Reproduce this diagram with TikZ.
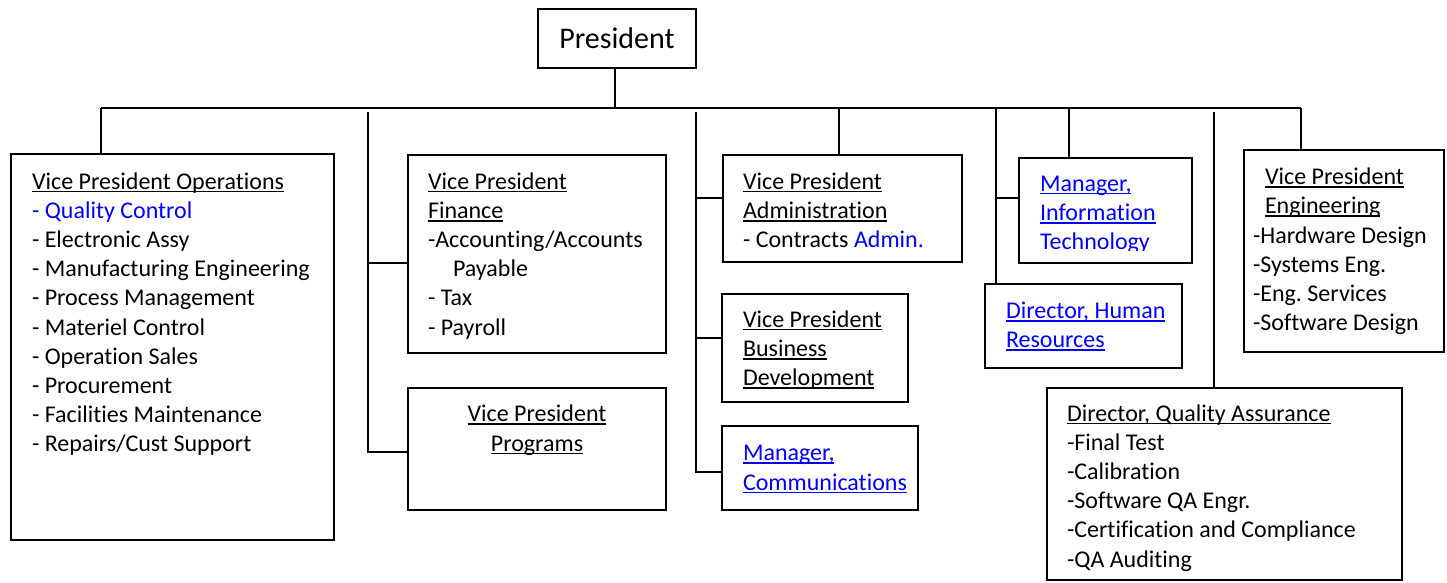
\documentclass[tikz,border=0pt]{standalone}
\usepackage{fontspec}
\setmainfont{Carlito}[Ligatures=NoCommon]
\definecolor{linkblue}{RGB}{0,0,255}
\newcommand\myul[1]{\setbox0\hbox{#1}\rlap{\rule[-3.4pt]{\wd0}{1.8pt}}\box0}
\newcommand\mylink[1]{\textcolor{linkblue}{\myul{#1}}}
\frenchspacing
\begin{document}
\begin{tikzpicture}[
  x=1pt, y=-1pt,
  box/.style={draw, line width=1.8pt, inner sep=0pt, outer sep=0pt, anchor=north west},
  conn/.style={line width=1.8pt},
  txt/.style={inner sep=0pt, outer sep=0pt, anchor=base west, align=left,
              font=\fontsize{24}{29.2}\selectfont},
]
\useasboundingbox (0,0) rectangle (1447,582);

% boxes
\node[box, minimum width=158, minimum height=59, font=\fontsize{30}{36}\selectfont] (pres) at (538,9) {President};
\node[box, minimum width=323, minimum height=386] (ops)   at (11,154) {};
\node[box, minimum width=258, minimum height=198] (fin)   at (408,155) {};
\node[box, minimum width=258, minimum height=122] (prog)  at (408,388) {};
\node[box, minimum width=239, minimum height=107] (adm)   at (723,155) {};
\node[box, minimum width=186, minimum height=108] (biz)   at (722,294) {};
\node[box, minimum width=196, minimum height=84]  (com)   at (722,426) {};
\node[box, minimum width=173, minimum height=105] (it)    at (1019,158) {};
\node[box, minimum width=197, minimum height=84]  (hr)    at (985,284) {};
\node[box, minimum width=200, minimum height=202] (eng)   at (1244,150) {};
\node[box, minimum width=355, minimum height=192] (qa)    at (1047,388) {};

% texts (anchor = baseline of the last line)
\node[txt] (opsT) at (32,451.8) {\myul{Vice President Operations}\\
  \textcolor{linkblue}{- Quality Control}\\
  - Electronic Assy\\
  - Manufacturing Engineering\\
  - Process Management\\
  - Materiel Control\\
  - Operation Sales\\
  - Procurement\\
  - Facilities Maintenance\\
  - Repairs/Cust Support};
\node[txt] (finT) at (428,335) {\myul{Vice President}\\
  \myul{Finance}\\
  -Accounting/Accounts\\
  \hspace*{25pt}Payable\\
  - Tax\\
  - Payroll};
\node[txt, anchor=base, align=center] (progT) at (537,451) {\myul{Vice President}\\ \myul{Programs}};
\node[txt] (admT) at (743,247.4) {\myul{Vice President}\\
  \myul{Administration}\\
  - Contracts \textcolor{linkblue}{Admin.}};
\node[txt] (bizT) at (743,385.4) {\myul{Vice President}\\ \myul{Business}\\ \myul{Development}};
\node[txt] (comT) at (743,490) {\mylink{Manager,}\\ \mylink{Communications}};
\begin{scope}
  \clip (1019,150) rectangle (1192,250);
  \node[txt] (itT) at (1040,249.4) {\mylink{Manager,}\\ \mylink{Information}\\ \mylink{Technology}};
\end{scope}
\node[txt] (hrT) at (1006,347.5) {\mylink{Director, Human}\\ \mylink{Resources}};
\node[txt] (engT) at (1253,330.6) {\hspace*{12pt}\myul{Vice President}\\
  \hspace*{12pt}\myul{Engineering}\\
  -Hardware Design\\
  -Systems Eng.\\
  -Eng. Services\\
  -Software Design};
\node[txt] (qaT) at (1067,567) {\myul{Director, Quality Assurance}\\
  -Final Test\\
  -Calibration\\
  -Software QA Engr.\\
  -Certification and Compliance\\
  -QA Auditing};

% connectors
\coordinate (busL) at (101,108);
\coordinate (busR) at (1301,108);
\coordinate (dAdm) at (839,108);
\coordinate (dIT)  at (1069,108);
\coordinate (sA) at (368,112);
\coordinate (sB) at (696,112);
\coordinate (sC) at (996,108);
\coordinate (sD) at (1214,112);

\draw[conn] (pres.south -| 615,0) -- (busL -| 615,0);
\draw[conn] (busL) -- (busR);
\draw[conn] (busL) -- (busL |- ops.north);
\draw[conn] (dAdm) -- (dAdm |- adm.north);
\draw[conn] (dIT) -- (dIT |- it.north);
\draw[conn] (busR) -- (busR |- eng.north);

\draw[conn] (sA) |- (prog.west |- 0,452);
\draw[conn] (sA |- 0,263) -- (fin.west |- 0,263);

\draw[conn] (sB) |- (com.west |- 0,472);
\draw[conn] (sB |- 0,198) -- (adm.west |- 0,198);
\draw[conn] (sB |- 0,338) -- (biz.west |- 0,338);

\draw[conn] (sC) -- (sC |- hr.north);
\draw[conn] (sC |- 0,198) -- (it.west |- 0,198);

\draw[conn] (sD) -- (sD |- qa.north);
\end{tikzpicture}
\end{document}
